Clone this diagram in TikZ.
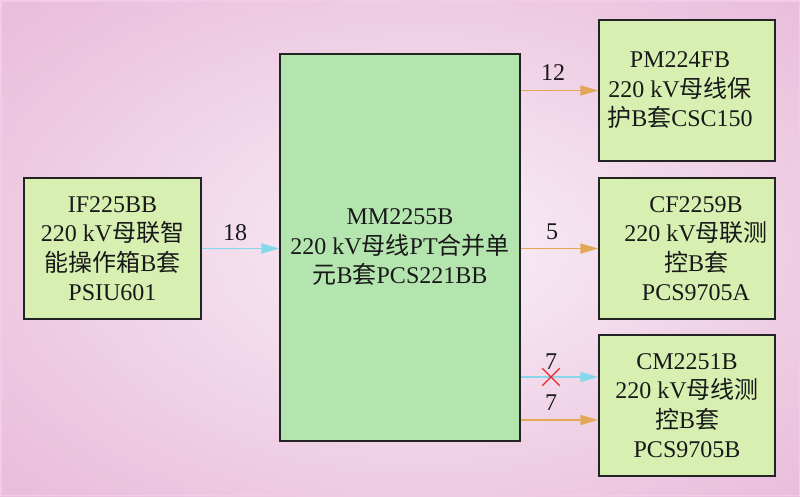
\documentclass[tikz,border=0pt]{standalone}
\usepackage{fontspec}
\setmainfont{Liberation Serif}
\newfontfamily\cjk{Noto Sans CJK SC}
\usetikzlibrary{arrows.meta,shapes.misc}
\definecolor{bgin}{RGB}{246,230,242}
\definecolor{bgout}{RGB}{233,190,219}
\definecolor{bgedge}{RGB}{242,204,230}
\definecolor{boxlight}{RGB}{215,240,178}
\definecolor{boxmid}{RGB}{181,229,175}
\definecolor{bordc}{RGB}{35,35,35}
\definecolor{orangec}{RGB}{226,168,88}
\definecolor{cyanc}{RGB}{135,215,235}
\definecolor{redc}{RGB}{232,40,40}
\definecolor{txtc}{RGB}{25,25,25}
\pgfdeclareradialshading{bgshade}{\pgfpoint{2.5bp}{0bp}}{color(0bp)=(bgin); color(6bp)=(bgin); color(34bp)=(bgout); color(50bp)=(bgout)}
\newcommand{\cj}[1]{{\cjk #1}}
\begin{document}
\begin{tikzpicture}[x=1pt,y=-1pt,
  every node/.style={text=txtc,font=\fontsize{24}{29.5}\selectfont},
  devbox/.style={draw=bordc,line width=1.3pt,fill=boxlight,minimum width=176pt,minimum height=141pt,align=center,inner sep=0pt},
  mainbox/.style={devbox,fill=boxmid,minimum width=240pt,minimum height=387pt},
  oarrow/.style={draw=orangec,line width=1.5pt,-{Triangle[length=18pt,width=10pt,fill=orangec]}},
  carrow/.style={draw=cyanc,line width=1.5pt,-{Triangle[length=18pt,width=10pt,fill=cyanc]}},
  numlab/.style={inner sep=0pt}
]
\useasboundingbox (0,0) rectangle (800,496);
\shade[shading=bgshade] (0,0) rectangle (800,496);
\draw[bgedge,line width=1.5pt] (0.75,0.75) rectangle (799.25,495.25);

\node[devbox,minimum width=177pt] (ifb) at (112.5,248.5) {IF225BB\\220 kV\cj{母联智}\\\cj{能操作箱}B\cj{套}\\PSIU601};
\node[mainbox] (mid) at (400,247.5) {MM2255B\\220 kV\cj{母线}PT\cj{合并单}\\\cj{元}B\cj{套}PCS221BB};
\node[devbox] (pm) at (687,90.5) {\hspace*{-14pt}PM224FB\\\hspace*{-14pt}220 kV\cj{母线保}\\\hspace*{-14pt}\cj{护}B\cj{套}CSC150};
\node[devbox] (cf) at (687,248.5) {\hspace*{18pt}CF2259B\\\hspace*{18pt}220 kV\cj{母联测}\\\hspace*{18pt}\cj{控}B\cj{套}\\\hspace*{18pt}PCS9705A};
\node[devbox] (cm) at (687,405.5) {CM2251B\\220 kV\cj{母线测}\\\cj{控}B\cj{套}\\PCS9705B};

\coordinate (cmA) at ([yshift=28.5pt]cm.west);
\coordinate (cmB) at ([yshift=-14.5pt]cm.west);

\draw[carrow] (ifb.east) -- (ifb.east -| mid.west);
\draw[oarrow] (mid.east |- pm.west) -- (pm.west);
\draw[oarrow] (mid.east |- cf.west) -- (cf.west);
\draw[carrow] (mid.east |- cmA) -- (cmA);
\draw[oarrow] (mid.east |- cmB) -- (cmB);

\node[draw=redc,line width=1.3pt,cross out,minimum size=16pt,inner sep=0pt] (xmark) at (551,377) {};

\node[numlab] (l18) at (235,233) {18};
\node[numlab] (l12) at (553,73) {12};
\node[numlab] (l5) at (552,232) {5};
\node[numlab] (l7a) at (551,362) {7};
\node[numlab] (l7b) at (551,403) {7};
\end{tikzpicture}
\end{document}
